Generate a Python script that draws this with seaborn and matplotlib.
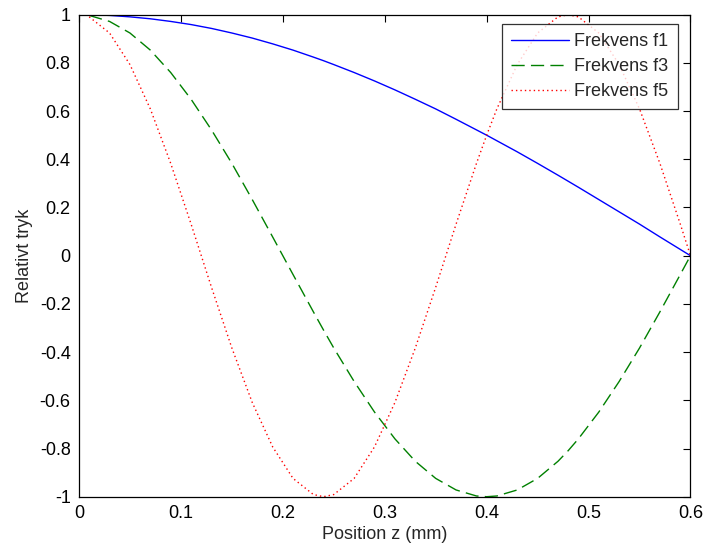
import numpy as np
import pandas as pd
import matplotlib
matplotlib.use('Agg')
import matplotlib.pyplot as plt
import seaborn as sns

# positions along z (mm) and relative pressure
z = [0.01, 0.03, 0.05, 0.07, 0.09, 0.11, 0.13, 0.15, 0.17, 0.19, 0.21, 0.23, 0.24,
     0.25, 0.27, 0.29, 0.31, 0.33, 0.35, 0.37, 0.39, 0.40, 0.41, 0.43, 0.45, 0.47,
     0.48, 0.49, 0.51, 0.53, 0.55, 0.57, 0.59, 0.60]

f1 = [1.000, 0.997, 0.991, 0.983, 0.972, 0.959, 0.943, 0.924, 0.903, 0.879, 0.853, 0.824, 0.809,
      0.793, 0.760, 0.725, 0.688, 0.649, 0.609, 0.566, 0.522, 0.500, 0.477, 0.431, 0.383, 0.334,
      0.309, 0.284, 0.233, 0.182, 0.131, 0.078, 0.026, 0.000]

f3 = [0.997, 0.972, 0.924, 0.853, 0.760, 0.649, 0.522, 0.383, 0.233, 0.078, -0.078, -0.233, -0.309,
      -0.383, -0.522, -0.649, -0.760, -0.853, -0.924, -0.972, -0.997, -1.000, -0.997, -0.972, -0.924, -0.853,
      -0.809, -0.760, -0.649, -0.522, -0.383, -0.233, -0.078, 0.000]

f5 = [0.991, 0.924, 0.793, 0.609, 0.383, 0.131, -0.131, -0.383, -0.609, -0.793, -0.924, -0.991, -1.000,
      -0.991, -0.924, -0.793, -0.609, -0.383, -0.131, 0.131, 0.383, 0.500, 0.609, 0.793, 0.924, 0.991,
      1.000, 0.991, 0.924, 0.793, 0.609, 0.383, 0.131, 0.000]

labels = ['Frekvens f1', 'Frekvens f3', 'Frekvens f5']
xticks = [0, 0.1, 0.2, 0.3, 0.4, 0.5, 0.6]
xticklabels = ['0', '0.1', '0.2', '0.3', '0.4', '0.5', '0.6']
yticks = [-1, -0.8, -0.6, -0.4, -0.2, 0, 0.2, 0.4, 0.6, 0.8, 1]
yticklabels = ['-1', '-0.8', '-0.6', '-0.4', '-0.2', '0', '0.2', '0.4', '0.6', '0.8', '1']

sns.set_style('white')
plt.rcParams['font.family'] = ['Liberation Sans', 'DejaVu Sans']
plt.rcParams['axes.unicode_minus'] = False

df = pd.DataFrame({'z': z, 'f1': f1, 'f3': f3, 'f5': f5})

fig = plt.figure(figsize=(7.04, 5.48), dpi=100)
ax = fig.add_axes([0.1122, 0.0936, 0.8686, 0.8796])

sns.lineplot(data=df, x='z', y='f1', ax=ax, color=(0, 0, 1), lw=1.0,
             label=labels[0])
sns.lineplot(data=df, x='z', y='f3', ax=ax, color=(0, 0.5, 0), lw=1.0,
             linestyle=(0, (9.5, 4.5)), label=labels[1])
sns.lineplot(data=df, x='z', y='f5', ax=ax, color=(1, 0, 0), lw=1.0,
             linestyle=(0, (1, 2.2)), label=labels[2])

ax.set_xlim(0, 0.6)
ax.set_ylim(-1, 1)
ax.set_xticks(xticks)
ax.set_xticklabels(xticklabels)
ax.set_yticks(yticks)
ax.set_yticklabels(yticklabels)
ax.tick_params(direction='in', length=5, width=0.8, top=True, right=True,
               labelsize=13, colors='black', pad=6)
for s in ax.spines.values():
    s.set_visible(True)
    s.set_color('black')
    s.set_linewidth(0.9)

ax.set_xlabel('Position z (mm)', fontsize=13, labelpad=3)
ax.set_ylabel('Relativt tryk', fontsize=13, labelpad=5)

leg = ax.legend(loc='upper right', bbox_to_anchor=(0.979, 0.981), fontsize=13,
                handlelength=3.2, frameon=True, fancybox=False, edgecolor='black',
                borderaxespad=0, handletextpad=0.3, labelspacing=0.45, borderpad=0.5)
leg.get_frame().set_linewidth(0.9)

fig.savefig('out.png', dpi=100)
